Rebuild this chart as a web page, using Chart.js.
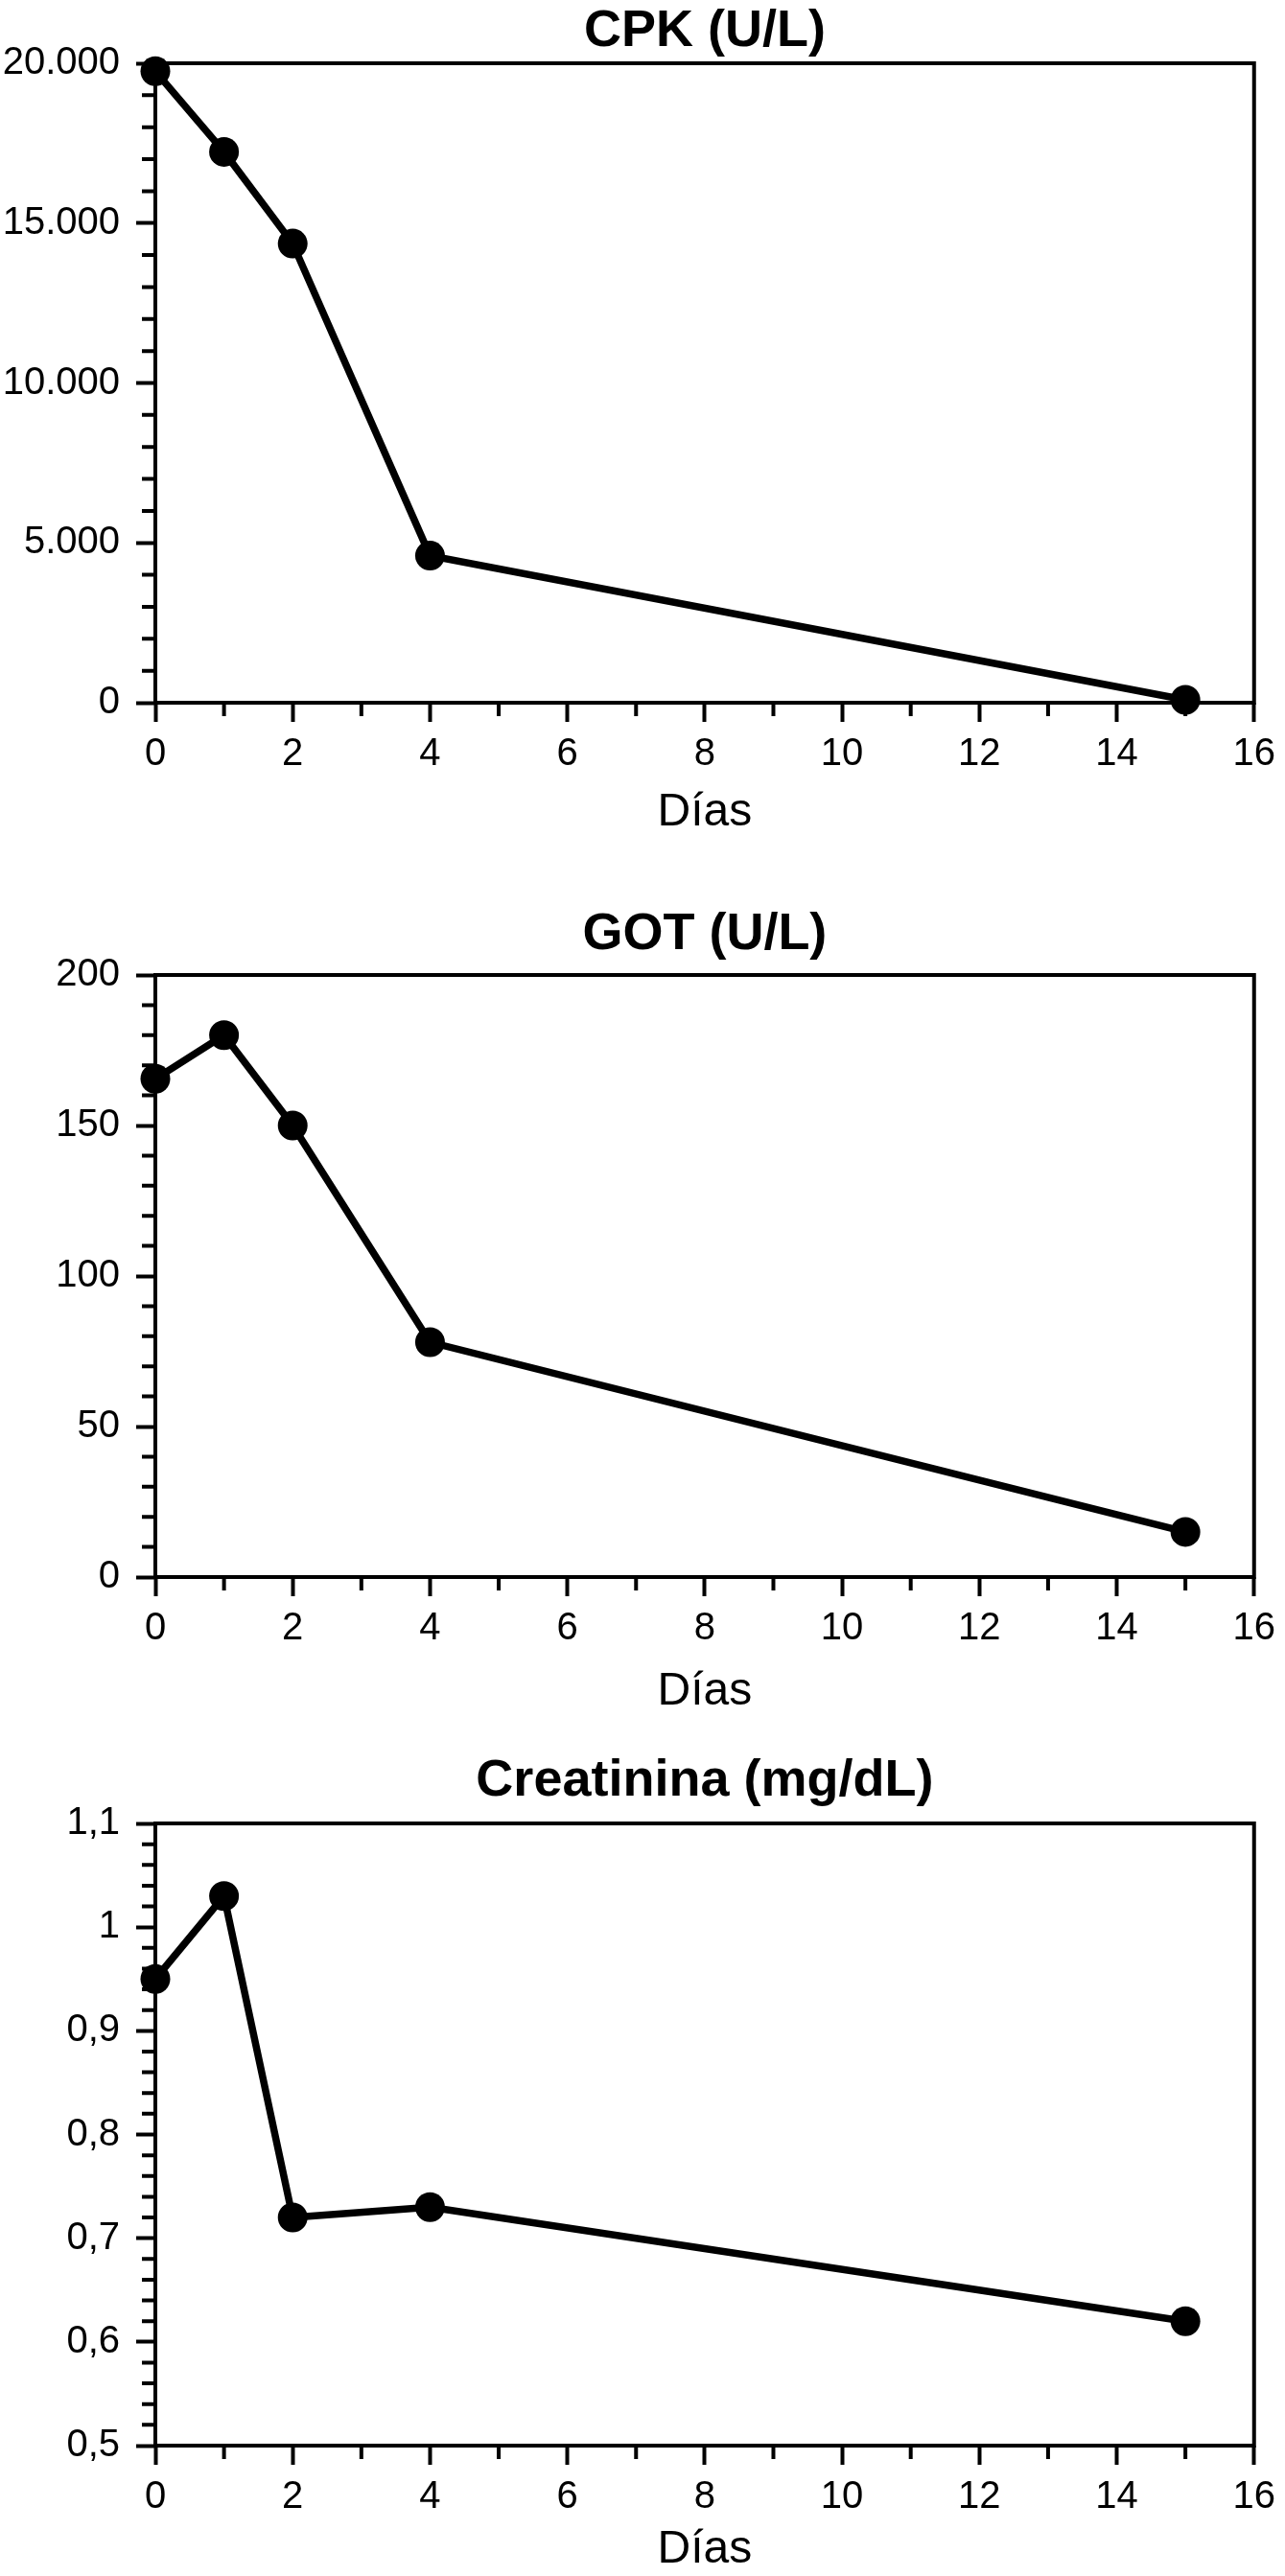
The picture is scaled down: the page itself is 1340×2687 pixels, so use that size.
<!DOCTYPE html>
<html lang="es">
<head>
<meta charset="utf-8">
<title>CPK, GOT y Creatinina</title>
<script src="https://cdn.jsdelivr.net/npm/chart.js@4.4.1/dist/chart.umd.min.js"></script>
<style>
  html, body { margin: 0; padding: 0; background: #fff; }
  #wrap { position: relative; width: 1340px; height: 2687px; overflow: hidden; }
  canvas { position: absolute; left: 0; }
</style>
</head>
<body>
<div id="wrap">
  <canvas id="cpk" width="1340" height="900" style="top:0px"></canvas>
  <canvas id="got" width="1340" height="900" style="top:900px"></canvas>
  <canvas id="creat" width="1340" height="887" style="top:1800px"></canvas>
</div>
<script>
// --- DATOS ---
const dias = [0, 1, 2, 4, 15];
const cpk = [19750, 17230, 14360, 4600, 90];
const got = [165.5, 180, 150, 78, 15];
const creatinina = [0.95, 1.03, 0.72, 0.73, 0.62];

// ticks de los ejes
const diasTicks = [0, 2, 4, 6, 8, 10, 12, 14, 16];
const cpkTicks = [0, 5000, 10000, 15000, 20000];
const gotTicks = [0, 50, 100, 150, 200];
const creatTicks = [0.5, 0.6, 0.7, 0.8, 0.9, 1.0, 1.1];

const titulos = ['CPK (U/L)', 'GOT (U/L)', 'Creatinina (mg/dL)'];
const tituloEjeX = 'Días';

const FUENTE = '"Liberation Sans", Arial, Helvetica, sans-serif';

// formato de números en español: 20.000 / 0,5
function fmtMiles(v) {
    return String(Math.round(v)).replace(/\B(?=(\d{3})+(?!\d))/g, '.');
}
function fmtDecimal(v) {
    return String(Math.round(v * 10) / 10).replace('.', ',');
}

// marco completo + ticks menores (dibujados con las escalas de Chart.js)
const marcoYMenores = {
    id: 'marcoYMenores',
    afterDraw(chart, args, opts) {
        const ctx = chart.ctx;
        const a = chart.chartArea;
        const sx = chart.scales.x, sy = chart.scales.y;
        ctx.save();
        ctx.strokeStyle = '#000';
        ctx.lineWidth = 4;
        ctx.strokeRect(a.left, a.top, a.right - a.left, a.bottom - a.top);

        const esMayor = (scale, v, paso) => scale.ticks.some(t => Math.abs(t.value - v) < paso * 1e-3);
        ctx.beginPath();
        for (let i = 0; ; i++) {
            const v = sx.min + i * opts.xMenor;
            if (v > sx.max + 1e-9) break;
            if (esMayor(sx, v, opts.xMenor)) continue;
            const px = sx.getPixelForValue(v);
            ctx.moveTo(px, a.bottom);
            ctx.lineTo(px, a.bottom + opts.largo);
        }
        for (let i = 0; ; i++) {
            const v = sy.min + i * opts.yMenor;
            if (v > sy.max + opts.yMenor * 1e-3) break;
            if (esMayor(sy, v, opts.yMenor)) continue;
            const py = sy.getPixelForValue(v);
            ctx.moveTo(a.left - opts.largo, py);
            ctx.lineTo(a.left, py);
        }
        ctx.stroke();
        ctx.restore();
    }
};

function crearGrafico(id, titulo, valores, yTicks, yMenor, fmt, L) {
    const lhTitulo = 54 * 1.2;
    const padTitTop = L.titulo - L.top - lhTitulo / 2;
    const padTitBottom = L.plotTop - L.titulo - lhTitulo / 2;
    const altoEjeX = L.alto - (L.plotBottom - L.top);
    const padDias = L.top + L.alto - L.dias - 24;

    return new Chart(document.getElementById(id), {
        type: 'line',
        data: {
            datasets: [{
                data: dias.map((d, i) => ({ x: d, y: valores[i] })),
                borderColor: '#000',
                borderWidth: 7.5,
                backgroundColor: '#000',
                pointRadius: 15.5,
                pointBorderWidth: 0,
                pointBackgroundColor: '#000',
                tension: 0,
                clip: false
            }]
        },
        options: {
            responsive: false,
            animation: false,
            devicePixelRatio: 1,
            events: [],
            layout: { autoPadding: false, padding: { left: 0, right: 27, top: 0, bottom: 0 } },
            plugins: {
                legend: { display: false },
                tooltip: { enabled: false },
                title: {
                    display: true,
                    text: titulo,
                    fullSize: false,
                    color: '#000',
                    font: { family: FUENTE, size: 54, weight: 'bold', lineHeight: 1.2 },
                    padding: { top: padTitTop, bottom: padTitBottom }
                },
                marcoYMenores: { xMenor: 1, yMenor: yMenor, largo: 14 }
            },
            scales: {
                x: {
                    type: 'linear',
                    min: diasTicks[0],
                    max: diasTicks[diasTicks.length - 1],
                    afterBuildTicks: s => { s.ticks = diasTicks.map(v => ({ value: v })); },
                    afterFit: s => { s.height = altoEjeX; },
                    border: { display: false },
                    grid: { drawOnChartArea: false, drawTicks: true, tickLength: 20, tickWidth: 4, tickColor: '#000' },
                    ticks: {
                        color: '#000',
                        padding: 10,
                        maxRotation: 0,
                        font: { family: FUENTE, size: 40 },
                        callback: v => String(v)
                    },
                    title: {
                        display: true,
                        text: tituloEjeX,
                        color: '#000',
                        font: { family: FUENTE, size: 48, lineHeight: 1 },
                        padding: { top: 0, bottom: padDias }
                    }
                },
                y: {
                    type: 'linear',
                    min: yTicks[0],
                    max: yTicks[yTicks.length - 1],
                    afterBuildTicks: s => { s.ticks = yTicks.map(v => ({ value: v })); },
                    afterFit: s => { s.width = 162; },
                    border: { display: false },
                    grid: { drawOnChartArea: false, drawTicks: true, tickLength: 20, tickWidth: 4, tickColor: '#000' },
                    ticks: {
                        color: '#000',
                        padding: 17,
                        font: { family: FUENTE, size: 40 },
                        callback: v => fmt(v)
                    }
                }
            }
        },
        plugins: [marcoYMenores]
    });
}

crearGrafico('cpk', titulos[0], cpk, cpkTicks, 1000, fmtMiles,
    { top: 0, alto: 900, titulo: 33, plotTop: 66, plotBottom: 733, dias: 848 });
crearGrafico('got', titulos[1], got, gotTicks, 10, v => String(v),
    { top: 900, alto: 900, titulo: 975, plotTop: 1017, plotBottom: 1645, dias: 1765 });
crearGrafico('creat', titulos[2], creatinina, creatTicks, 0.02, fmtDecimal,
    { top: 1800, alto: 887, titulo: 1858, plotTop: 1902, plotBottom: 2551, dias: 2660 });
</script>
</body>
</html>
